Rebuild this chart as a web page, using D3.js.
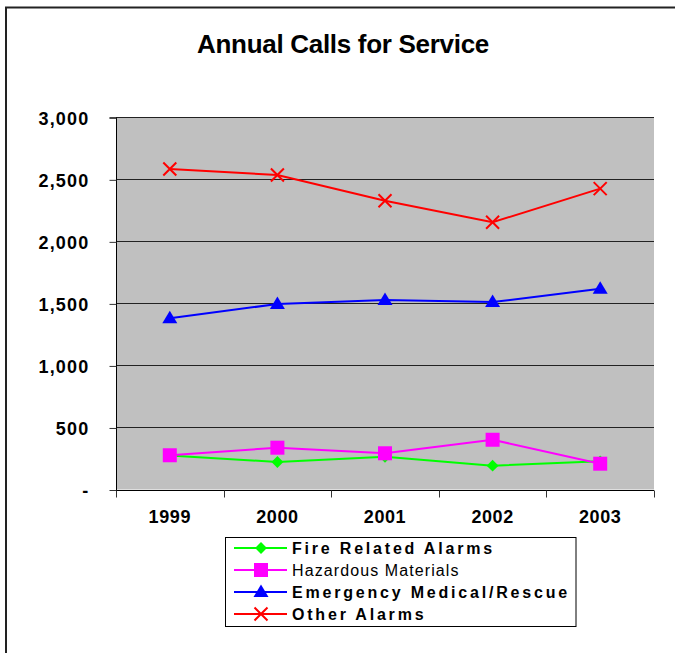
<!DOCTYPE html>
<html><head><meta charset="utf-8">
<script src="https://cdn.jsdelivr.net/npm/d3@7/dist/d3.min.js"></script>
<style>
body{margin:0;background:#fff;}
svg{display:block;}
text{font-family:"Liberation Sans",Arial,sans-serif;}
</style></head>
<body>
<script>
const years = ["1999","2000","2001","2002","2003"];
const fireRelated = [275, 222, 264, 192, 227];
const hazardous = [276, 337, 292, 401, 208];
const emergency = [1380, 1495, 1527, 1511, 1618];
const otherAlarms = [2583, 2535, 2328, 2154, 2425];
const yTicks = [0, 500, 1000, 1500, 2000, 2500, 3000];
const seriesNames = ["Fire Related Alarms","Hazardous Materials","Emergency Medical/Rescue","Other Alarms"];
const seriesColors = ["#00FF00","#FF00FF","#0000FF","#FF0000"];
const seriesMarkers = ["diamond","square","triangle","x"];
const seriesBold = [true,false,true,true];

(function(){
const W = 675, H = 653;
const svg = d3.select("body").append("svg").attr("width", W).attr("height", H);

// outer border
svg.append("rect").attr("x",6).attr("y",7.5).attr("width",W+10).attr("height",H+10)
  .attr("fill","none").attr("stroke","#222").attr("stroke-width",2);

svg.append("text").attr("x",343).attr("y",53).attr("text-anchor","middle")
  .attr("font-size",26).attr("font-weight","bold").attr("letter-spacing","-0.3px").text("Annual Calls for Service");

const pLeft = 116, pRight = 654, pTop = 117.3, pBottom = 489.5;
const x = d3.scaleBand().domain(years).range([pLeft, pRight]);
const y = d3.scaleLinear().domain([0, 3000]).range([pBottom, pTop]);

svg.append("rect").attr("x",pLeft).attr("y",pTop).attr("width",pRight-pLeft).attr("height",pBottom-pTop).attr("fill","#C0C0C0");

// gridlines
svg.append("g").selectAll("line").data(yTicks.filter(d=>d>0)).join("line")
  .attr("x1",pLeft).attr("x2",pRight).attr("y1",d=>Math.round(y(d))+0.5).attr("y2",d=>Math.round(y(d))+0.5)
  .attr("stroke","#222").attr("stroke-width",1);

// y axis
const yAxis = d3.axisLeft(y).tickValues(yTicks).tickSize(7).tickPadding(20)
  .tickFormat(d => d === 0 ? "-" : d3.format(",")(d));
const gy = svg.append("g").attr("transform",`translate(${pLeft+0.5},0.5)`).call(yAxis);
gy.select(".domain").attr("stroke","#000").attr("d",`M-7,${y(3000)}H0V${y(0)}`);
gy.selectAll(".tick line").attr("stroke","#333");
gy.selectAll(".tick text").attr("font-size",18).attr("font-weight","bold").attr("fill","#000")
  .attr("font-family","Liberation Sans, Arial, sans-serif").attr("letter-spacing","1.2px").attr("dy","0.35em");

// x axis
const xAxis = d3.axisBottom(x).tickSize(0).tickPadding(20);
const gx = svg.append("g").attr("transform",`translate(0,${Math.round(pBottom)+0.5})`).call(xAxis);
gx.select(".domain").attr("stroke","#000").attr("d",`M${pLeft},0H${pRight}`);
gx.selectAll(".tick text").attr("font-size",18).attr("font-weight","bold").attr("fill","#000")
  .attr("font-family","Liberation Sans, Arial, sans-serif").attr("letter-spacing","0.6px");
const bounds = years.map(d => x(d)).concat([pRight]);
gx.append("g").selectAll("line").data(bounds).join("line")
  .attr("x1",d=>Math.round(d)+0.5).attr("x2",d=>Math.round(d)+0.5).attr("y1",0).attr("y2",7).attr("stroke","#333");

function drawMarker(g, type, color, cx, cy) {
  if (type === "diamond") {
    g.append("path").attr("d", d3.symbol(d3.symbolDiamond2, 90)()).attr("transform",`translate(${cx},${cy})`).attr("fill",color);
  } else if (type === "square") {
    g.append("rect").attr("x",cx-7).attr("y",cy-7).attr("width",14).attr("height",14).attr("fill",color);
  } else if (type === "triangle") {
    g.append("path").attr("d",`M${cx},${cy-7.5}L${cx+7.5},${cy+5}L${cx-7.5},${cy+5}Z`).attr("fill",color);
  } else {
    g.append("path").attr("d",`M${cx-6.5},${cy-6.5}L${cx+6.5},${cy+6.5}M${cx-6.5},${cy+6.5}L${cx+6.5},${cy-6.5}`)
      .attr("stroke",color).attr("stroke-width",2);
  }
}

const allSeries = [fireRelated, hazardous, emergency, otherAlarms];
const line = d3.line().x((d,i)=>x(years[i]) + x.bandwidth()/2).y(d=>y(d));
allSeries.forEach((vals, si) => {
  const g = svg.append("g");
  g.append("path").datum(vals).attr("d",line).attr("fill","none").attr("stroke",seriesColors[si]).attr("stroke-width",2);
  vals.forEach((v,i) => drawMarker(g, seriesMarkers[si], seriesColors[si], x(years[i]) + x.bandwidth()/2, y(v)));
});

// legend
const lg = svg.append("g");
lg.append("rect").attr("x",225.5).attr("y",537.5).attr("width",350.5).attr("height",89)
  .attr("fill","#fff").attr("stroke","#000").attr("stroke-width",1);
const ly = [548, 570, 592, 614];
seriesNames.forEach((name, si) => {
  const yy = ly[si];
  lg.append("line").attr("x1",234).attr("x2",287).attr("y1",yy).attr("y2",yy).attr("stroke",seriesColors[si]).attr("stroke-width",2);
  drawMarker(lg, seriesMarkers[si], seriesColors[si], 261, yy);
  lg.append("text").attr("x",292).attr("y",yy).attr("dy","0.36em").attr("font-size",16)
    .attr("font-weight", seriesBold[si] ? "bold" : "normal")
    .attr("letter-spacing", seriesBold[si] ? "2.8px" : "1.1px")
    .text(name);
});
})();
</script>
</body></html>
